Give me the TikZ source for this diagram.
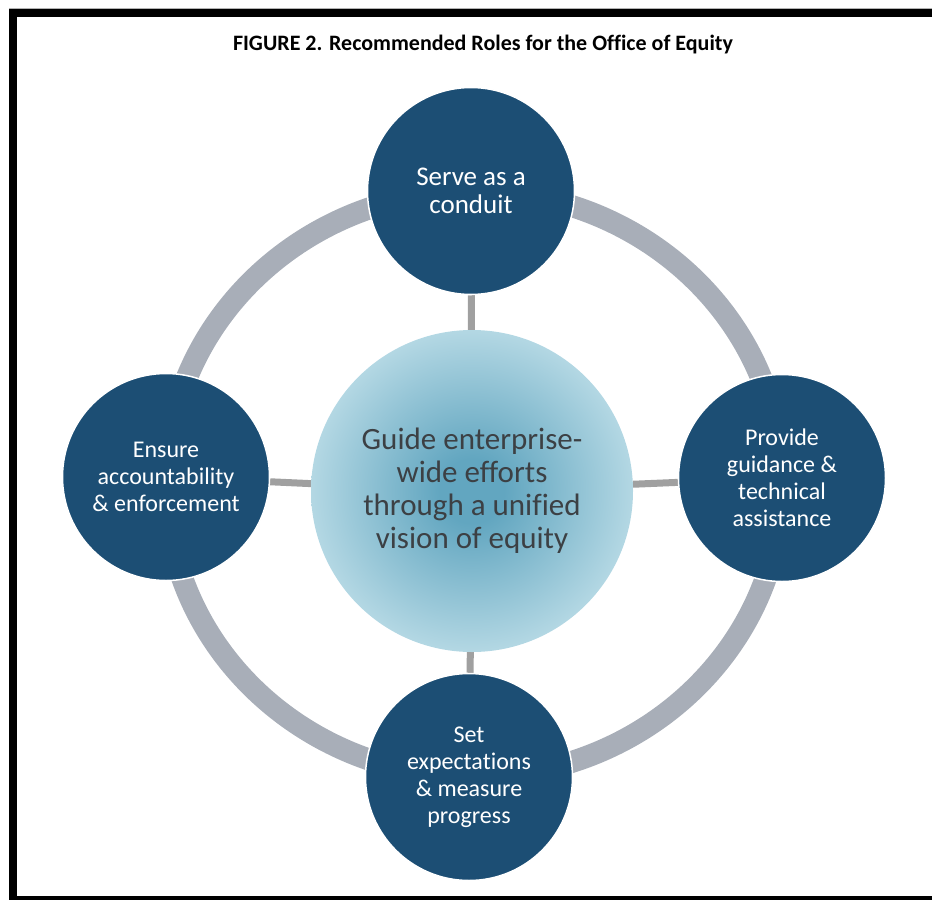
\documentclass[tikz,border=0pt]{standalone}
\usepackage{fontspec}
\setmainfont{Carlito}[Ligatures=NoCommon]
\usetikzlibrary{backgrounds}

\definecolor{roleblue}{RGB}{28,78,116}
\definecolor{ringgray}{RGB}{168,174,184}
\definecolor{spokegray}{RGB}{160,160,160}
\definecolor{hubdark}{RGB}{98,166,192}
\definecolor{hublight}{RGB}{208,233,240}
\definecolor{hubtext}{RGB}{60,64,68}

\pgfdeclareradialshading{hubglow}{\pgfpoint{0bp}{0bp}}{%
  color(0bp)=(hubdark); color(5bp)=(hubdark); color(32bp)=(hublight); color(50bp)=(hublight)}

\tikzset{
  role/.style={circle, fill=roleblue, draw=white, line width=1.5pt, minimum size=207pt,
    inner sep=0pt, text=white, align=center, font=\fontsize{24}{27}\selectfont},
  hub/.style={circle, shading=hubglow, minimum size=322pt, inner sep=0pt,
    text=hubtext, align=center, font=\fontsize{31}{33}\selectfont},
  ring/.style={ringgray, line width=22pt},
  spoke/.style={spokegray, line width=7pt}
}

\begin{document}
\begin{tikzpicture}[x=1pt, y=-1pt]
        \useasboundingbox (0,0) rectangle (932,900);
        % frame
        \draw [gray!60, line width=1pt] (9,8) -- (932,8);
        \fill [black] (9,9) rectangle (932,17);
        \fill [black] (9,9) rectangle (17,900);
        \fill [black] (9,896) rectangle (932,900);
        \node [font=\bfseries\fontsize{22}{26}\selectfont] (title) at (483,45) {FIGURE 2. Recommended Roles for the Office of Equity};

        % hub and the four roles
        \node [hub] (hub) at (472,491) {Guide enterprise-\\wide efforts\\through a unified\\vision of equity};
        \node [role, font=\fontsize{27}{28}\selectfont] (conduit) at (471,191) {Serve as a\\conduit};
        \node [role] (guidance) at (782,478) {Provide\\guidance \&\\technical\\assistance};
        \node [role] (progress) at (469,777) {Set\\expectations\\\& measure\\progress};
        \node [role] (account) at (166,477) {Ensure\\accountability\\\& enforcement};

        \begin{pgfonlayer}{background}
            \draw [ring] (474,484) ellipse [x radius=308, y radius=293];
            \draw [spoke] (hub) -- (conduit);
            \draw [spoke] (hub) -- (guidance);
            \draw [spoke] (hub) -- (progress);
            \draw [spoke] (hub) -- (account);
        \end{pgfonlayer}
    \end{tikzpicture}
\end{document}
